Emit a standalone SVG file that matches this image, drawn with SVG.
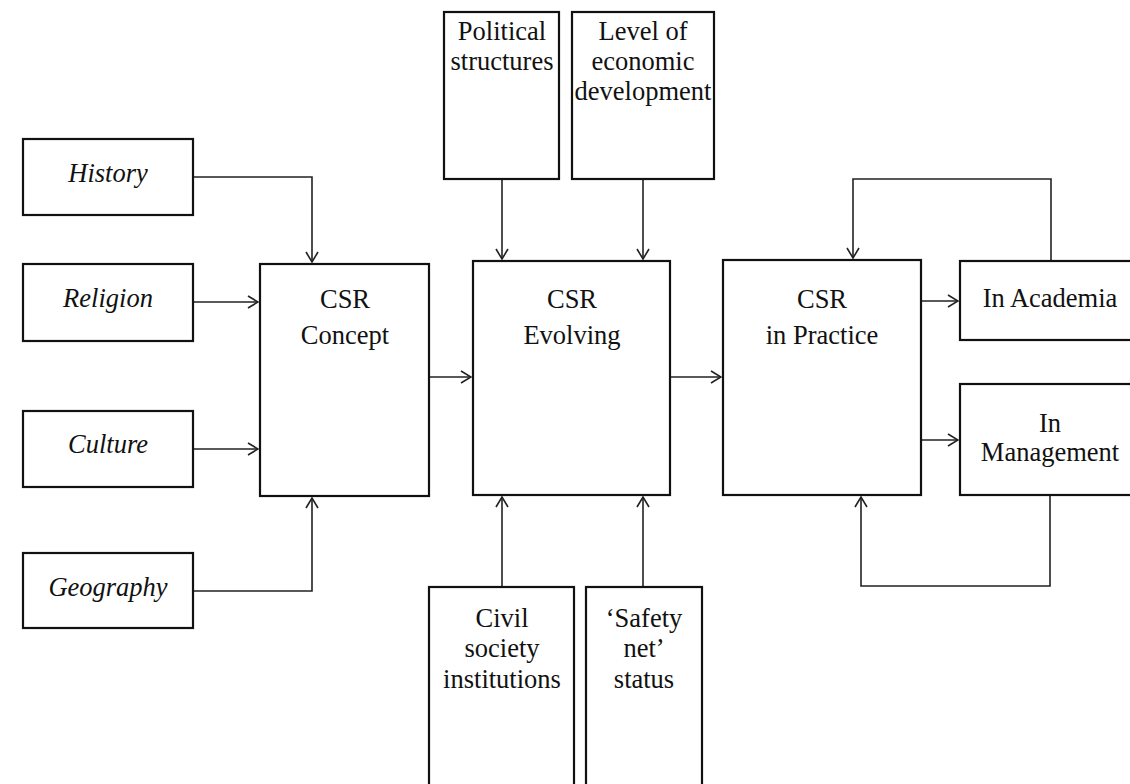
<svg xmlns="http://www.w3.org/2000/svg" width="1130" height="784" viewBox="0 0 1130 784">
<style>
  .box { fill: #fff; stroke: #111; stroke-width: 2.2; }
  .t { font-family: "Liberation Serif", "Times New Roman", serif; font-size: 26.5px; fill: #111; text-anchor: middle; }
  .ti { font-style: italic; }
  .c { fill: none; stroke: #222; stroke-width: 1.6; }
</style>
<defs>
  <marker id="ah" markerUnits="userSpaceOnUse" markerWidth="12" markerHeight="14" viewBox="0 0 12 14" refX="11" refY="7" orient="auto">
    <path d="M1,1 L11,7 L1,13" fill="none" stroke="#222" stroke-width="1.6"/>
  </marker>
</defs>
<rect width="1130" height="784" fill="#fff"/>
<g id="connectors">
  <path class="c" d="M193,177 H312 V262" marker-end="url(#ah)"/>
  <path class="c" d="M193,302 H258" marker-end="url(#ah)"/>
  <path class="c" d="M193,449 H258" marker-end="url(#ah)"/>
  <path class="c" d="M193,591 H312 V498" marker-end="url(#ah)"/>
  <path class="c" d="M502,179 V259" marker-end="url(#ah)"/>
  <path class="c" d="M643,179 V259" marker-end="url(#ah)"/>
  <path class="c" d="M502,587 V497" marker-end="url(#ah)"/>
  <path class="c" d="M643,587 V497" marker-end="url(#ah)"/>
  <path class="c" d="M429,377 H471" marker-end="url(#ah)"/>
  <path class="c" d="M670,377 H721" marker-end="url(#ah)"/>
  <path class="c" d="M921,301 H958" marker-end="url(#ah)"/>
  <path class="c" d="M921,440 H958" marker-end="url(#ah)"/>
  <path class="c" d="M1051,261 V179 H853 V258" marker-end="url(#ah)"/>
  <path class="c" d="M1050,495 V586 H861 V497" marker-end="url(#ah)"/>
</g>
<g id="history"><rect class="box" x="23" y="139" width="170" height="76"/><text class="t ti" x="108" y="182">History</text></g>
<g id="religion"><rect class="box" x="23" y="264" width="170" height="77"/><text class="t ti" x="108" y="307">Religion</text></g>
<g id="culture"><rect class="box" x="23" y="411" width="170" height="76"/><text class="t ti" x="108" y="453">Culture</text></g>
<g id="geography"><rect class="box" x="23" y="553" width="170" height="75"/><text class="t ti" x="108" y="596">Geography</text></g>
<g id="csr-concept"><rect class="box" x="260" y="264" width="169" height="232"/><text class="t" x="345" y="308">CSR</text><text class="t" x="345" y="344">Concept</text></g>
<g id="political"><rect class="box" x="444" y="12" width="115" height="167"/><text class="t" x="502" y="40">Political</text><text class="t" x="502" y="70">structures</text></g>
<g id="economic"><rect class="box" x="572" y="12" width="142" height="167"/><text class="t" x="643" y="40">Level of</text><text class="t" x="643" y="70">economic</text><text class="t" x="643" y="100">development</text></g>
<g id="csr-evolving"><rect class="box" x="473" y="261" width="197" height="234"/><text class="t" x="572" y="308">CSR</text><text class="t" x="572" y="344">Evolving</text></g>
<g id="civil"><rect class="box" x="429" y="587" width="145" height="220"/><text class="t" x="502" y="627">Civil</text><text class="t" x="502" y="657">society</text><text class="t" x="502" y="688">institutions</text></g>
<g id="safety"><rect class="box" x="586" y="587" width="116" height="220"/><text class="t" x="644" y="627">‘Safety</text><text class="t" x="644" y="657">net’</text><text class="t" x="644" y="688">status</text></g>
<g id="csr-practice"><rect class="box" x="723" y="260" width="198" height="235"/><text class="t" x="822" y="308">CSR</text><text class="t" x="822" y="344">in Practice</text></g>
<g id="academia"><rect class="box" x="960" y="261" width="190" height="79"/><text class="t" x="1050" y="307">In Academia</text></g>
<g id="management"><rect class="box" x="960" y="384" width="190" height="111"/><text class="t" x="1050" y="432">In</text><text class="t" x="1050" y="461">Management</text></g>
</svg>
